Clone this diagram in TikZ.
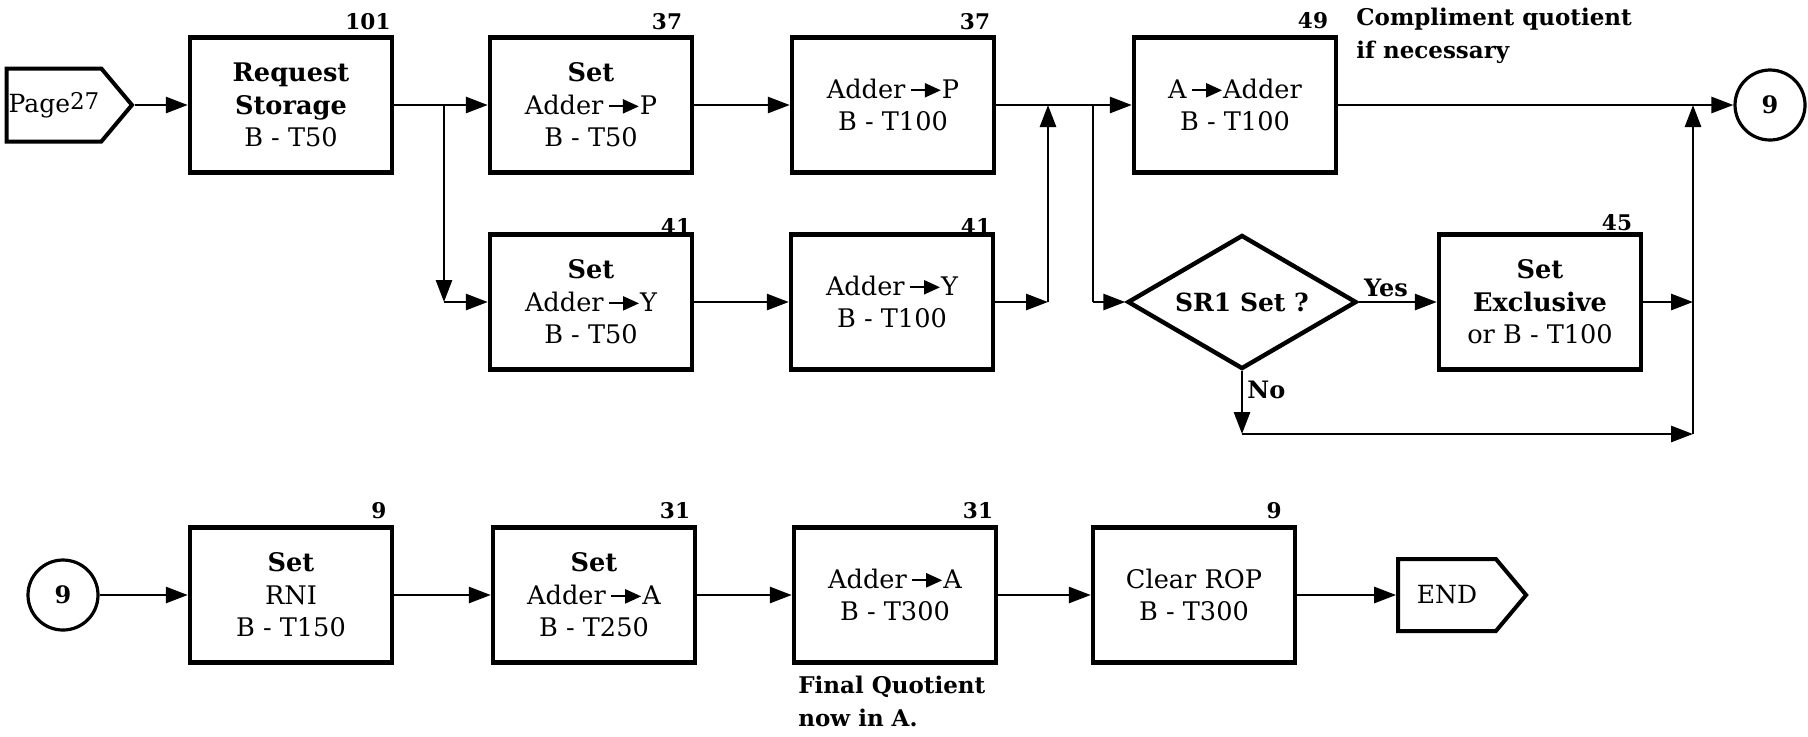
\documentclass[tikz,border=0pt]{standalone}
\usepackage{fontspec}
\setmainfont{DejaVu Serif}
\usetikzlibrary{shapes.geometric,shapes.symbols,arrows.meta}
\newcommand{\flowarr}{\tikz[baseline=-0.6ex]\draw[line width=1.1pt,-{Triangle[length=8pt,width=7pt]}] (0pt,0pt)--(15pt,0pt);}
\begin{document}
\begin{tikzpicture}[x=0.5pt,y=-0.5pt,
  box/.style={draw,line width=2.2pt,minimum width=101pt,minimum height=67.5pt,align=center,inner sep=0pt,font=\fontsize{12.8}{16.3}\selectfont},
  term/.style={draw,line width=2pt,signal,signal to=east,signal pointer angle=100,minimum width=60pt,minimum height=36.5pt,inner xsep=1pt,inner ysep=2pt,font=\fontsize{12.5}{14}\selectfont},
  conn/.style={draw,circle,line width=1.6pt,minimum size=35pt,inner sep=0pt,font=\bfseries\fontsize{12}{14}\selectfont},
  dec/.style={draw,diamond,shape aspect=1.8,line width=2.2pt,minimum width=114.5pt,minimum height=67pt,inner sep=0pt,font=\bfseries\fontsize{12.5}{14}\selectfont},
  num/.style={font=\bfseries\fontsize{10.8}{14}\selectfont,inner sep=0pt},
  note/.style={font=\bfseries\fontsize{11.5}{16.5}\selectfont,align=left,inner sep=0pt},
  lbl/.style={font=\bfseries\fontsize{12}{14}\selectfont,inner sep=2pt},
  flow/.style={line width=1.4pt,-{Triangle[length=11pt,width=8pt]}},
  plain/.style={line width=1.4pt}]
\useasboundingbox (0,0) rectangle (1808,736);
% row 1
\node[term] (p27) at (54,105) {Page\raisebox{1.5pt}{\fontsize{11.5}{12}\selectfont 27}};
\node[box] (req) at (291,105) {\textbf{Request}\\\textbf{Storage}\\B - T50};
\node[box] (setP) at (591,105) {\textbf{Set}\\Adder\,\flowarr P\\B - T50};
\node[box] (addP) at (893,105) {Adder\,\flowarr P\\B - T100};
\node[box] (aAdd) at (1235,105) {A\,\flowarr Adder\\B - T100};
\node[conn] (c9a) at (1770,105) {9};
% row 2
\node[box] (setY) at (591,302) {\textbf{Set}\\Adder\,\flowarr Y\\B - T50};
\node[box] (addY) at (892,302) {Adder\,\flowarr Y\\B - T100};
\node[dec] (dia) at (1242,302) {SR1 Set ?};
\node[box] (excl) at (1540,302) {\textbf{Set}\\\textbf{Exclusive}\\or B - T100};
% row 3
\node[conn] (c9b) at (63,595) {9};
\node[box] (rni) at (291,595) {\textbf{Set}\\RNI\\B - T150};
\node[box] (setA) at (594,595) {\textbf{Set}\\Adder\,\flowarr A\\B - T250};
\node[box] (addA) at (895,595) {Adder\,\flowarr A\\B - T300};
\node[box] (clr) at (1194,595) {Clear ROP\\B - T300};
\node[term,minimum width=64pt,minimum height=36pt,inner xsep=4pt] (endn) at (1447,595) {END};
% numbers
\node[num] (n101) at (368,22) {101};
\node[num] (n37a) at (667,22) {37};
\node[num] (n37b) at (975,22) {37};
\node[num] (n49) at (1313,21) {49};
\node[num] (n41a) at (676,226) {41};
\node[num] (n41b) at (976,226) {41};
\node[num] (n45) at (1617,223) {45};
\node[num] (n9a) at (379,511) {9};
\node[num] (n31a) at (675,511) {31};
\node[num] (n31b) at (978,511) {31};
\node[num] (n9b) at (1274,511) {9};
% notes
\node[note,anchor=north west] (comp) at (1356,8) {Compliment quotient\\if necessary};
\node[note,anchor=north west] (fq) at (798,676) {Final Quotient\\now in A.};
% junctions
\coordinate (j1) at (444,105);
\coordinate (j1b) at (444,302);
\coordinate (j2) at (1048,302);
\coordinate (j2t) at (1048,105);
\coordinate (j3) at (1093,105);
\coordinate (j3b) at (1093,302);
\coordinate (j4) at (1693,302);
\coordinate (j4b) at (1693,434);
\coordinate (j4t) at (1693,105);
\coordinate (j5) at (1242,434);
% connectors row 1/2
\draw[flow] (p27.east) -- (req.west);
\draw[flow] (req.east) -- (setP.west);
\draw[flow] (j1) -- (j1b);
\draw[flow] (j1b) -- (setY.west);
\draw[flow] (setP.east) -- (addP.west);
\draw[flow] (setY.east) -- (addY.west);
\draw[flow] (addP.east) -- (aAdd.west);
\draw[flow] (addY.east) -- (j2);
\draw[flow] (j2) -- (j2t);
\draw[plain] (j3) -- (j3b);
\draw[flow] (j3b) -- (dia.west);
\draw[flow] (aAdd.east) -- (c9a.west);
\draw[flow] (dia.east) -- node[lbl,above,pos=0.35] (yes) {Yes} (excl.west);
\draw[flow] (excl.east) -- (j4);
\draw[flow] (j4b) -- (j4t);
\draw[flow] (dia.south) -- node[lbl,right,pos=0.3] (no) {No} (j5);
\draw[flow] (j5) -- (j4b);
% row 3
\draw[flow] (c9b.east) -- (rni.west);
\draw[flow] (rni.east) -- (setA.west);
\draw[flow] (setA.east) -- (addA.west);
\draw[flow] (addA.east) -- (clr.west);
\draw[flow] (clr.east) -- (endn.west);
\end{tikzpicture}
\end{document}
